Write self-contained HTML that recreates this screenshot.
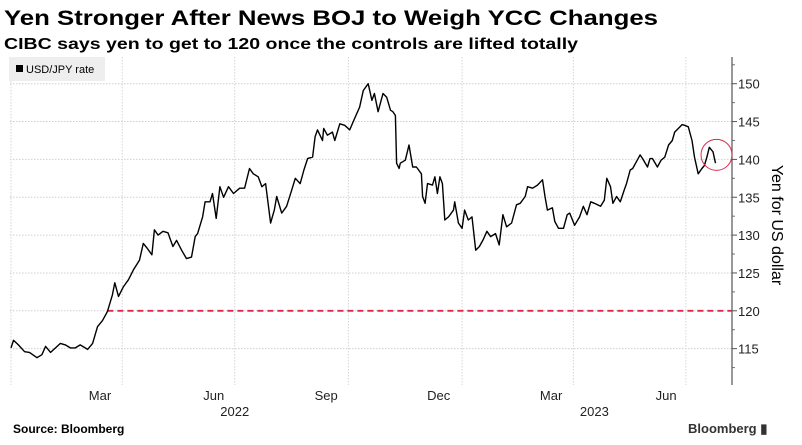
<!DOCTYPE html>
<html><head><meta charset="utf-8"><style>
html,body{margin:0;padding:0;background:#fff;}
svg{display:block;font-family:"Liberation Sans",sans-serif;}
</style></head><body>
<svg id="chart" width="802" height="445" viewBox="0 0 802 445">
<text x="4" y="25" font-size="21" font-weight="bold" textLength="654" lengthAdjust="spacingAndGlyphs">Yen Stronger After News BOJ to Weigh YCC Changes</text>
<text x="4" y="49" font-size="15.5" font-weight="bold" textLength="574" lengthAdjust="spacingAndGlyphs">CIBC says yen to get to 120 once the controls are lifted totally</text>
<g id="grid"></g>
<g id="axis"></g>
<g id="series"></g>
<rect x="9" y="57" width="96" height="24" fill="#eeeeee"/>
<rect x="16" y="65" width="7" height="7" fill="#000"/>
<text x="26" y="73" font-size="11">USD/JPY rate</text>
<text x="772" y="225" font-size="16" text-anchor="middle" transform="rotate(90 772 225)">Yen for US dollar</text>
<text x="13" y="433" font-size="12" font-weight="bold">Source: Bloomberg</text>
<text x="688" y="433" font-size="13" font-weight="bold" fill="#333">Bloomberg ▮</text>
</svg>
<script>
const days=[0,2,6,11,15,21,25,28,32,36,40,44,48,52,56,60,62,66,70,74,78,82,84,87,91,95,99,104,107,110,114,116,119,123,127,131,134,138,142,146,149,151,155,157,161,163,166,169,172,176,180,185,189,193,196,200,203,206,208,210,213,215,219,223,227,230,234,237,240,244,246,248,252,253,256,260,262,266,270,274,278,282,285,289,292,294,297,301,304,307,309,311,312,314,315,319,322,325,328,332,333,335,337,341,343,345,347,349,351,354,358,359,362,365,367,370,373,376,379,382,385,388,392,395,398,401,405,409,412,416,418,422,426,430,432,434,438,440,443,447,450,452,456,460,463,466,469,472,477,480,482,485,487,490,493,496,498,501,503,506,509,511,515,517,519,523,526,529,532,535,537,540,543,545,548,551,553,556,559,561,563,565,568,570];
const rates=[115.1,116.1,115.5,114.6,114.5,113.8,114.2,115.3,114.5,115.1,115.7,115.5,115.1,115.1,115.5,115.1,114.9,115.7,117.9,118.7,119.9,122.1,123.7,121.9,123.2,124.1,125.4,126.7,128.9,128.3,127.4,130.7,130.0,130.5,130.3,128.5,129.3,128.0,126.9,127.1,129.8,130.2,132.4,134.4,134.4,135.5,132.2,136.4,135.0,136.4,135.5,136.2,136.2,138.8,138.1,137.7,136.4,136.8,134.2,131.6,133.3,135.1,132.9,133.8,135.9,137.5,136.8,138.6,140.1,140.3,143.0,143.9,142.5,144.1,143.2,143.6,142.5,144.7,144.5,143.9,145.4,146.9,149.1,150.0,147.8,148.7,146.3,148.7,148.2,146.5,146.3,145.8,139.5,138.8,139.5,139.9,141.9,139.0,139.0,138.1,135.1,134.2,136.8,136.6,137.7,135.5,137.7,136.8,132.0,132.4,133.3,134.4,131.6,130.9,133.3,132.0,132.4,128.0,128.5,129.4,130.5,129.8,130.2,128.7,132.7,131.1,131.6,134.0,134.2,135.1,136.4,136.2,136.6,137.3,135.1,133.3,133.6,131.8,130.9,130.9,132.7,132.9,131.3,132.4,133.8,132.7,134.4,134.2,133.8,134.6,137.5,136.4,134.2,135.1,134.4,135.9,136.8,138.6,138.8,139.7,140.6,140.1,139.0,140.1,140.1,139.0,139.9,140.3,141.9,142.5,143.6,144.1,144.6,144.5,144.3,142.5,140.3,138.1,138.8,139.2,140.3,141.6,141.0,139.5];
const yTicks=[115,120,125,130,135,140,145,150];
const monthTickDays=[0,90,181,273,365,455,546];
const monthLabels=["Mar","Jun","Sep","Dec","Mar","Jun"];
const monthLabelDays=[72,164,255,346,437,530];
const yearLabels=["2022","2023"];
const yearLabelDays=[181,472];
const targetLevel=[120];
const targetStartDay=[78];
const highlightValue=[140.6];

const NS="http://www.w3.org/2000/svg";
const X0=11,PXD=1.236,Y150=83.7,PXU=7.57,AX=732,TOP=57,BOT=385;
const x=d=>X0+d*PXD;
const y=v=>Y150+(150-v)*PXU;
function mk(tag,attrs,parent,text){const e=document.createElementNS(NS,tag);for(const k in attrs)e.setAttribute(k,attrs[k]);if(text!=null)e.textContent=text;parent.appendChild(e);return e;}
const grid=document.getElementById('grid'),axis=document.getElementById('axis'),series=document.getElementById('series');
yTicks.forEach(v=>{
  const l=mk('line',{x1:10,x2:AX,y1:y(v),y2:y(v),stroke:'#cfcfcf','stroke-width':1,'stroke-dasharray':'1.5,1.5'},grid);
  
  
  const t=mk('line',{x1:AX,x2:AX+5,y1:y(v),y2:y(v),stroke:'#555'},axis);
  
  
  const tx=mk('text',{x:AX+6,y:y(v)+5,'font-size':13,fill:'#222'},axis,String(v));
  
  
});
for(let v=112.5;v<=152.5;v+=2.5){ if(v%5===0)continue;
  const t=mk('line',{x1:AX,x2:AX+3,y1:y(v),y2:y(v),stroke:'#777'},axis);
  
  
}
const ax=mk('line',{x1:AX,x2:AX,y1:TOP,y2:BOT,stroke:'#555','stroke-width':1.2},axis);


monthTickDays.forEach(d=>{
  const l=mk('line',{x1:x(d),x2:x(d),y1:TOP,y2:BOT,stroke:'#d5d5d5','stroke-width':1,'stroke-dasharray':'1.5,1.5'},grid);
  
  
});
monthLabels.forEach((m,i)=>{
  const t=mk('text',{x:x(monthLabelDays[i]),y:400,'font-size':13,'text-anchor':'middle',fill:'#222'},axis,m);
  
  
});
yearLabels.forEach((m,i)=>{
  const t=mk('text',{x:x(yearLabelDays[i]),y:416,'font-size':13,'text-anchor':'middle',fill:'#222'},axis,m);
  
  
});
const tl=mk('line',{x1:x(targetStartDay[0]),x2:AX,y1:y(targetLevel[0]),y2:y(targetLevel[0]),stroke:'#e0284a','stroke-width':1.8,'stroke-dasharray':'6,4'},series);


const pts=days.map((d,i)=>x(d).toFixed(1)+','+y(rates[i]).toFixed(1)).join(' ');
const pl=mk('polyline',{points:pts,fill:'none',stroke:'#000','stroke-width':1.4,'stroke-linejoin':'round'},series);


const n=days.length-1;
const c=mk('circle',{cx:x(days[n])+1,cy:y(highlightValue[0]),r:15.5,fill:'none',stroke:'#e0284a','stroke-width':1},series);


</script>
</body></html>
